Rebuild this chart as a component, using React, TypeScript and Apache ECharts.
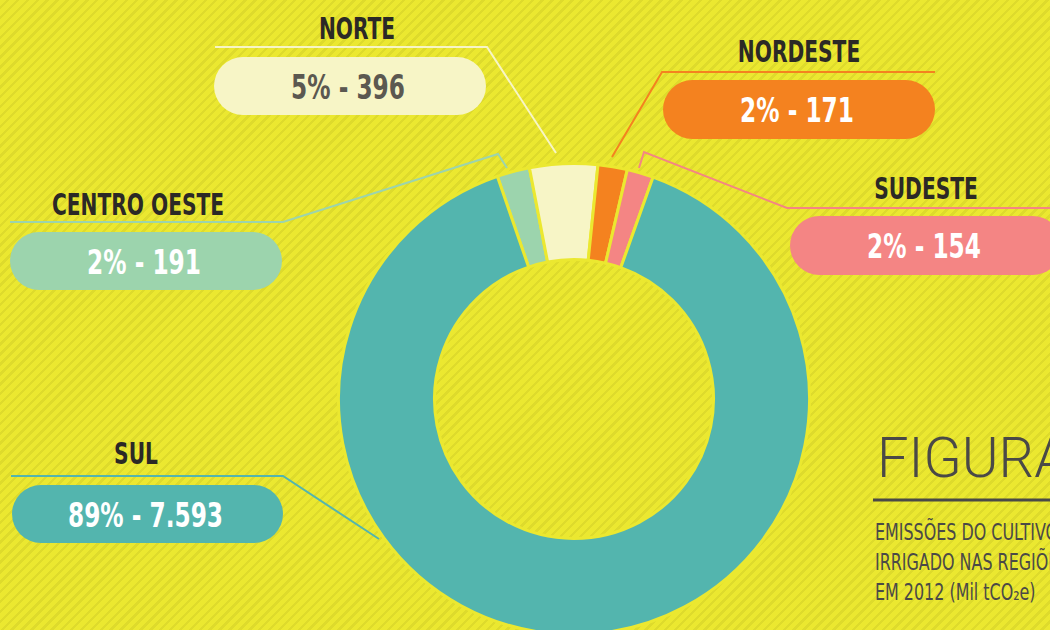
import React, { useEffect, useRef } from "react";
import * as echarts from "echarts";

// ---- data ----
const regions = ["CENTRO OESTE", "NORTE", "NORDESTE", "SUDESTE", "SUL"];
const emissions = [191, 396, 171, 154, 7593]; // Mil tCO2e, 2012
const sliceColors = ["#9cd4ad", "#f7f5c6", "#f4821f", "#f48584", "#53b5ae"];
const valueTextColors = ["#ffffff", "#5b5850", "#ffffff", "#ffffff", "#ffffff"];
const figureTitle = "FIGURA";
const subtitleLines = ["EMISSÕES DO CULTIVO", "IRRIGADO NAS REGIÕES", "EM 2012 (Mil tCO₂e)"];

// ---- layout (positions only) ----
const titlePos = [
  [138, 204],
  [357, 28],
  [799, 51],
  [926, 188],
  [136, 453],
];
const pillRects = [
  [10, 232, 272, 58],
  [214, 57, 272, 58],
  [663, 80, 272, 59],
  [790, 216, 272, 59],
  [12, 485, 271, 58],
];
const leaderLines = [
  [[10, 222], [283, 222], [498, 154], [507, 168]],
  [[215, 47], [487, 47], [556, 153]],
  [[935, 72], [662, 72], [612, 157]],
  [[1052, 208], [787, 208], [644, 152], [639, 168]],
  [[11, 476], [283, 476], [379, 539]],
];

const BG = "#ebe830";
const DARK = "#2b2926";
const GREY = "#4a4947";
const COND = "'Liberation Sans Narrow', 'DejaVu Sans Condensed', 'DejaVu Sans', sans-serif";

function fmtThousands(v: number): string {
  return String(v).replace(/\B(?=(\d{3})+(?!\d))/g, ".");
}

export default function App() {
  const ref = useRef<HTMLDivElement>(null);

  useEffect(() => {
    if (!ref.current) return;
    const chart = echarts.init(ref.current, null, { renderer: "svg" });
    const total = emissions.reduce((a, b) => a + b, 0);

    const graphics: any[] = [];
    regions.forEach((name, i) => {
      const pct = Math.round((emissions[i] / total) * 100);
      const [rx, ry, rw, rh] = pillRects[i];
      graphics.push({
        type: "polyline",
        z: 1,
        shape: { points: leaderLines[i] },
        style: { stroke: sliceColors[i], lineWidth: 2, fill: "none" },
      });
      graphics.push({
        type: "rect",
        z: 2,
        shape: { x: rx, y: ry, width: rw, height: rh, r: rh / 2 },
        style: { fill: sliceColors[i] },
      });
      graphics.push({
        type: "text",
        z: 3,
        x: rx + rw / 2 - 2,
        y: ry + rh / 2 + 1,
        scaleX: 0.76,
        style: {
          text: `${pct}% - ${fmtThousands(emissions[i])}`,
          fill: valueTextColors[i],
          fontFamily: COND,
          fontWeight: "bold",
          fontSize: 34,
          align: "center",
          verticalAlign: "middle",
        },
      });
      graphics.push({
        type: "text",
        z: 3,
        x: titlePos[i][0],
        y: titlePos[i][1],
        scaleX: 0.725,
        style: {
          text: name,
          fill: DARK,
          fontFamily: COND,
          fontWeight: "bold",
          fontSize: 31,
          align: "center",
          verticalAlign: "middle",
        },
      });
    });

    graphics.push({
      type: "text",
      x: 877,
      y: 458,
      style: {
        text: figureTitle,
        fill: GREY,
        fontFamily: "Roboto, 'Open Sans', sans-serif",
        fontWeight: 300,
        fontSize: 56,
        align: "left",
        verticalAlign: "middle",
      },
    });
    graphics.push({
      type: "line",
      shape: { x1: 873, y1: 500, x2: 1050, y2: 500 },
      style: { stroke: GREY, lineWidth: 3 },
    });
    subtitleLines.forEach((t, k) => {
      graphics.push({
        type: "text",
        x: 875,
        y: 532 + k * 30,
        scaleX: 0.77,
        style: {
          text: t,
          fill: GREY,
          fontFamily: COND,
          fontSize: 23,
          align: "left",
          verticalAlign: "middle",
        },
      });
    });

    chart.setOption({
      animation: false,
      backgroundColor: "transparent",
      series: [
        {
          type: "pie",
          center: [574, 399],
          radius: [139.5, 235.5],
          startAngle: 109,
          clockwise: true,
          avoidLabelOverlap: false,
          label: { show: false },
          labelLine: { show: false },
          emphasis: { disabled: true },
          itemStyle: { borderColor: BG, borderWidth: 3 },
          data: regions.map((name, i) => ({
            name,
            value: emissions[i],
            itemStyle: { color: sliceColors[i] },
          })),
        },
      ],
      graphic: graphics,
    });

    return () => chart.dispose();
  }, []);

  return (
    <div
      ref={ref}
      style={{
        position: "absolute",
        left: 0,
        top: 0,
        width: 1050,
        height: 630,
        overflow: "hidden",
        background: `repeating-linear-gradient(135deg, ${BG} 0px, ${BG} 4.5px, #dedb2c 4.5px, #dedb2c 7px)`,
      }}
    />
  );
}
